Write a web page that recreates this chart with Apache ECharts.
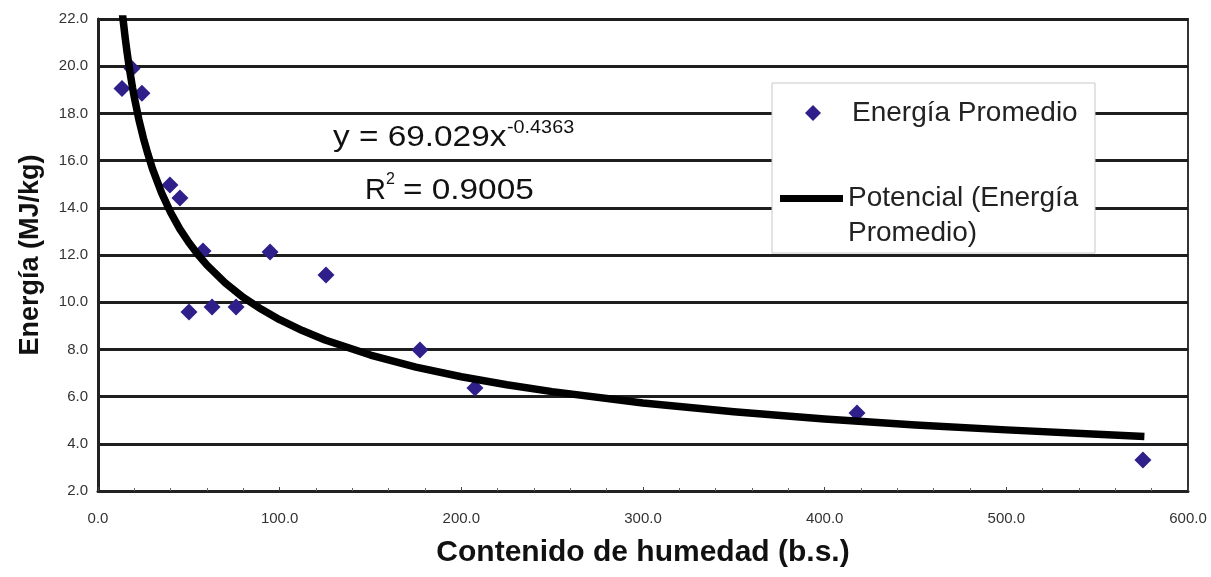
<!DOCTYPE html>
<html>
<head>
<meta charset="utf-8">
<script src="https://cdn.jsdelivr.net/npm/echarts@6/dist/echarts.min.js"></script>
<style>
body { margin: 0; background: #fff; }
#chart { width: 1211px; height: 577px; }
</style>
</head>
<body>
<div id="chart"></div>
<script>
// puntos medidos: contenido de humedad (b.s.) y energía (MJ/kg)
var humedad = [13.2, 18.7, 24.2, 39.6, 45.1, 57.8, 50.1, 62.8, 76.0, 94.7, 125.5, 177.2, 207.5, 417.8, 575.2];
var energia = [19.05, 19.9, 18.85, 14.97, 14.42, 12.17, 9.58, 9.8, 9.8, 12.13, 11.15, 7.97, 6.36, 5.3, 3.31];

// curva potencial
var curvaX = [13, 14, 15, 16, 17.5, 19, 20, 22.5, 25, 27.5, 30, 35, 40, 45, 50, 55, 60, 70, 80, 90, 100, 112.5, 125, 150, 175, 200, 225, 250, 300, 350, 400, 450, 500, 550, 576];
var curvaY = [22.54, 21.84, 21.18, 20.59, 19.8, 19.09, 18.68, 17.74, 16.95, 16.27, 15.65, 14.63, 13.8, 13.11, 12.53, 12.02, 11.57, 10.82, 10.2, 9.7, 9.26, 8.8, 8.4, 7.76, 7.25, 6.84, 6.5, 6.21, 5.73, 5.36, 5.05, 4.8, 4.59, 4.4, 4.31];

var yTicks = [2, 22, 2];   // min, max, paso
var xTicks = [0, 600, 100];

var FONT = "'Liberation Sans', Arial, sans-serif";

function pares(xs, ys){
    var out = [];
    for(var i = 0; i < xs.length; i++){
        out.push([xs[i], ys[i]]);
    }
    return out;
}

var chart = echarts.init(document.getElementById('chart'));

var option = {
    backgroundColor: '#fff',
    animation: false,
    textStyle: { fontFamily: FONT },
    grid: {
        left: 98, right: 23, top: 19, bottom: 86,
        show: true,
        borderColor: '#333',
        borderWidth: 2
    },
    xAxis: {
        type: 'value',
        min: xTicks[0], max: xTicks[1], interval: xTicks[2],
        name: 'Contenido de humedad (b.s.)',
        nameLocation: 'middle',
        nameGap: 47,
        nameTextStyle: { fontSize: 30, fontWeight: 'bold', color: '#111', fontFamily: FONT },
        axisLine: { lineStyle: { color: '#222', width: 3 } },
        axisTick: { show: true, inside: true, length: 4, lineStyle: { color: '#444' } },
        minorTick: { show: true, splitNumber: 5, length: 3, lineStyle: { color: '#666' } },
        splitLine: { show: false },
        axisLabel: {
            margin: 20, fontSize: 15, color: '#333',
            formatter: function(v){ return v.toFixed(1); }
        }
    },
    yAxis: {
        type: 'value',
        min: yTicks[0], max: yTicks[1], interval: yTicks[2],
        name: 'Energía (MJ/kg)',
        nameLocation: 'middle',
        nameGap: 54,
        nameTextStyle: { fontSize: 27, fontWeight: 'bold', color: '#111', fontFamily: FONT },
        axisLine: { show: true, lineStyle: { color: '#222', width: 3 } },
        axisTick: { show: false },
        splitLine: { lineStyle: { color: '#1e1e1e', width: 3 } },
        axisLabel: {
            margin: 10, fontSize: 15, color: '#333',
            formatter: function(v){ return v.toFixed(1); }
        }
    },
    legend: [{
        data: ['Energía Promedio'],
        orient: 'vertical',
        left: 805, top: 96,
        padding: 0,
        itemWidth: 16, itemHeight: 16,
        textStyle: { fontSize: 28, color: '#222', lineHeight: 34, padding: [0, 0, 0, 26], fontFamily: FONT }
    }, {
        data: [{ name: 'Potencial (Energía Promedio)', icon: 'rect' }],
        orient: 'vertical',
        left: 780, top: 146,
        padding: 0,
        itemWidth: 63, itemHeight: 7,
        formatter: function(){ return '\nPotencial (Energía\nPromedio)'; },
        textStyle: { fontSize: 28, color: '#222', lineHeight: 35, fontFamily: FONT }
    }],
    graphic: [
        // caja de la leyenda
        {
            type: 'rect', z: 3,
            shape: { x: 772, y: 83, width: 323, height: 170 },
            style: { fill: '#fff', stroke: '#c8c8c8', lineWidth: 1 }
        },
        // ecuacion de la tendencia
        {
            type: 'text', z: 5, x: 333, y: 138, scaleX: 1.15,
            style: { text: 'y = 69.029x', font: '29px ' + FONT, fill: '#111', verticalAlign: 'middle' }
        },
        {
            type: 'text', z: 5, x: 507, y: 128, scaleX: 1.1,
            style: { text: '-0.4363', font: '18px ' + FONT, fill: '#111', verticalAlign: 'middle' }
        },
        {
            type: 'text', z: 5, x: 365, y: 191,
            style: { text: 'R', font: '29px ' + FONT, fill: '#111', verticalAlign: 'middle' }
        },
        {
            type: 'text', z: 5, x: 386, y: 180,
            style: { text: '2', font: '16px ' + FONT, fill: '#111', verticalAlign: 'middle' }
        },
        {
            type: 'text', z: 5, x: 403, y: 191, scaleX: 1.15,
            style: { text: '= 0.9005', font: '29px ' + FONT, fill: '#111', verticalAlign: 'middle' }
        }
    ],
    series: [{
        type: 'scatter',
        name: 'Energía Promedio',
        symbol: 'diamond',
        symbolSize: 17,
        itemStyle: { color: '#2e1f8a', opacity: 1 },
        z: 3,
        data: pares(humedad, energia)
    }, {
        type: 'line',
        name: 'Potencial (Energía Promedio)',
        symbol: 'none',
        smooth: false,
        itemStyle: { color: '#000' },
        lineStyle: { color: '#000', width: 7.5, join: 'round' },
        z: 4,
        data: pares(curvaX, curvaY)
    }]
};

chart.setOption(option);
</script>
</body>
</html>
